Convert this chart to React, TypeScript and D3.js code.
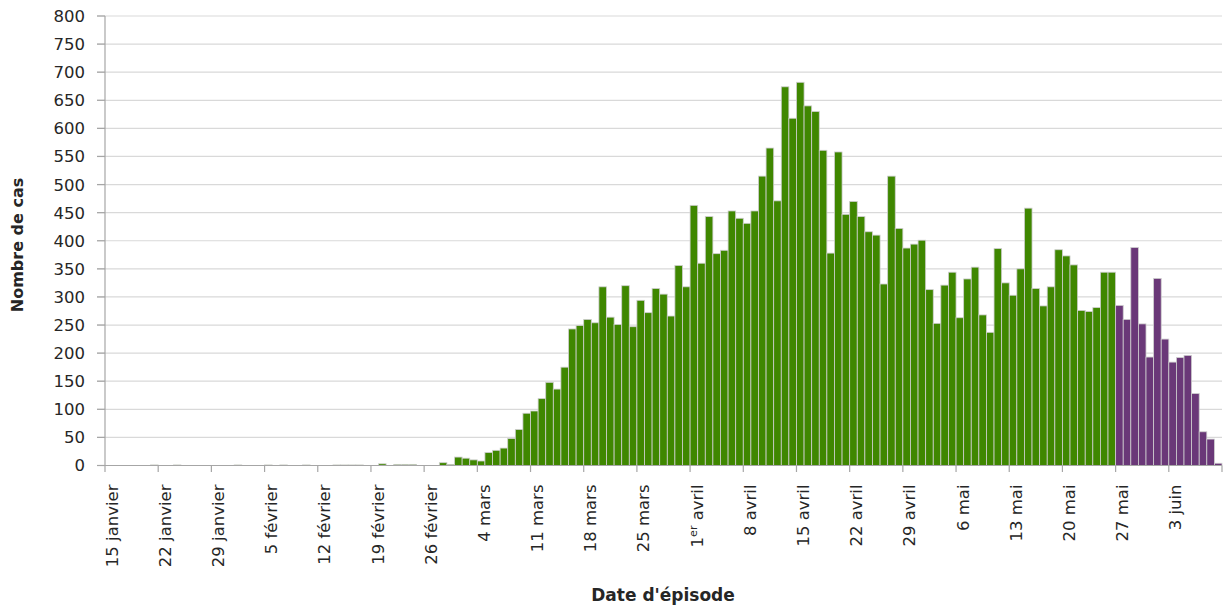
import React, { useRef, useEffect } from 'react'
import * as d3 from 'd3'

// daily case counts, from 15 janvier to 26 mai
const casConsolides = [
  0, 0, 0, 0, 0, 0, 1, 0, 0, 1,
  0, 0, 0, 0, 0, 0, 0, 1, 0, 0,
  0, 1, 0, 1, 0, 0, 1, 0, 0, 0,
  1, 1, 1, 1, 0, 0, 3, 0, 2, 2,
  2, 0, 0, 0, 5, 2, 15, 13, 10, 8,
  23, 27, 31, 48, 64, 93, 97, 119, 148, 136,
  175, 243, 249, 260, 254, 318, 264, 251, 320, 247,
  294, 272, 315, 305, 266, 356, 318, 463, 360, 443,
  377, 383, 453, 440, 431, 453, 515, 565, 471, 674,
  618, 682, 640, 630, 561, 378, 558, 447, 470, 443,
  416, 410, 323, 515, 422, 387, 394, 401, 313, 253,
  321, 344, 263, 332, 353, 268, 237, 386, 325, 303,
  350, 458, 315, 284, 318, 384, 373, 357, 276, 274,
  281, 344, 344,
]

// last two weeks (27 mai - 9 juin), drawn in purple
const casRecents = [285, 260, 388, 252, 193, 333, 225, 184, 192, 196, 128, 60, 47, 4]

// one label every 7 days, starting on the first category
const etiquettesDates = [
  '15 janvier', '22 janvier', '29 janvier', '5 février', '12 février', '19 février',
  '26 février', '4 mars', '11 mars', '18 mars', '25 mars', '1er avril', '8 avril',
  '15 avril', '22 avril', '29 avril', '6 mai', '13 mai', '20 mai', '27 mai', '3 juin',
]

const yTicks = d3.range(0, 801, 50)

const W = 1225
const H = 607
const margin = { left: 105, right: 3, top: 16, bottom: 141.5 }

const GREEN = '#3f8700'
const PURPLE = '#6a3878'
const FONT = '"DejaVu Sans", sans-serif'

export default function App() {
  const svgRef = useRef(null)

  useEffect(() => {
    const svg = d3.select(svgRef.current)
    svg.selectAll('*').remove()

    const data = [
      ...casConsolides.map((v, i) => ({ i, v, recent: false })),
      ...casRecents.map((v, j) => ({ i: casConsolides.length + j, v, recent: true })),
    ]

    const x = d3.scaleBand()
      .domain(data.map(d => d.i))
      .range([margin.left, W - margin.right])
      .padding(0)

    const y = d3.scaleLinear()
      .domain([0, 800])
      .range([H - margin.bottom, margin.top])

    const x0 = margin.left
    const x1 = W - margin.right
    const bw = x.bandwidth()

    // gridlines
    svg.append('g')
      .selectAll('line')
      .data(yTicks.slice(1))
      .join('line')
        .attr('x1', x0 - 8)
        .attr('x2', x1)
        .attr('y1', d => y(d))
        .attr('y2', d => y(d))
        .attr('stroke', '#d9d9d9')
        .attr('stroke-width', 1.2)

    // bars
    svg.append('g')
      .selectAll('rect')
      .data(data)
      .join('rect')
        .attr('x', d => x(d.i))
        .attr('y', d => y(d.v))
        .attr('width', bw)
        .attr('height', d => y(0) - y(d.v))
        .attr('fill', d => d.recent ? PURPLE : GREEN)
        .attr('stroke', '#cfcfcf')
        .attr('stroke-width', 0.8)

    // y axis
    const ya = svg.append('g')
    ya.append('line')
      .attr('x1', x0).attr('x2', x0)
      .attr('y1', y(800)).attr('y2', y(0))
      .attr('stroke', '#a6a6a6').attr('stroke-width', 1.2)
    ya.selectAll('line.tick')
      .data(yTicks)
      .join('line')
        .attr('class', 'tick')
        .attr('x1', x0 - 8).attr('x2', x0)
        .attr('y1', d => y(d)).attr('y2', d => y(d))
        .attr('stroke', '#a6a6a6').attr('stroke-width', 1.2)
    ya.selectAll('text')
      .data(yTicks)
      .join('text')
        .attr('x', 85)
        .attr('y', d => y(d))
        .attr('dy', '0.36em')
        .attr('text-anchor', 'end')
        .attr('font-family', FONT)
        .attr('font-size', 16.5)
        .attr('fill', '#262626')
        .text(d => d)

    // x axis
    const xa = svg.append('g')
    xa.append('line')
      .attr('x1', x0).attr('x2', x1)
      .attr('y1', y(0)).attr('y2', y(0))
      .attr('stroke', '#a6a6a6').attr('stroke-width', 1.2)

    const tickIdx = [...d3.range(0, data.length, 7)]
    xa.selectAll('line.tick')
      .data([...tickIdx.map(i => x(i)), x1])
      .join('line')
        .attr('class', 'tick')
        .attr('x1', d => d).attr('x2', d => d)
        .attr('y1', y(0)).attr('y2', y(0) + 6.5)
        .attr('stroke', '#a6a6a6').attr('stroke-width', 1.2)

    const labels = xa.selectAll('text')
      .data(etiquettesDates)
      .join('text')
        .attr('transform', (d, k) => `translate(${x(k * 7) + bw / 2 + 3},${y(0) + 19}) rotate(-90)`)
        .attr('text-anchor', 'end')
        .attr('dy', '0.35em')
        .attr('font-family', FONT)
        .attr('font-size', 16.5)
        .attr('fill', '#262626')

    labels.each(function (d) {
      const t = d3.select(this)
      const m = d.match(/^(\d+)(er)( .*)$/)
      if (m) {
        t.append('tspan').text(m[1])
        t.append('tspan').attr('baseline-shift', 'super').attr('font-size', 11).text(m[2])
        t.append('tspan').text(m[3])
      } else {
        t.text(d)
      }
    })

    // axis titles
    svg.append('text')
      .attr('x', 663)
      .attr('y', 601)
      .attr('text-anchor', 'middle')
      .attr('font-family', FONT)
      .attr('font-weight', 'bold')
      .attr('font-size', 17)
      .attr('fill', '#262626')
      .text("Date d'épisode")

    svg.append('text')
      .attr('transform', 'translate(23,245) rotate(-90)')
      .attr('text-anchor', 'middle')
      .attr('font-family', FONT)
      .attr('font-weight', 'bold')
      .attr('font-size', 16)
      .attr('fill', '#262626')
      .text('Nombre de cas')
  }, [])

  return (
    <svg
      ref={svgRef}
      width={W}
      height={H}
      viewBox={`0 0 ${W} ${H}`}
      style={{ position: 'absolute', left: 0, top: 0, background: '#fff' }}
    />
  )
}
